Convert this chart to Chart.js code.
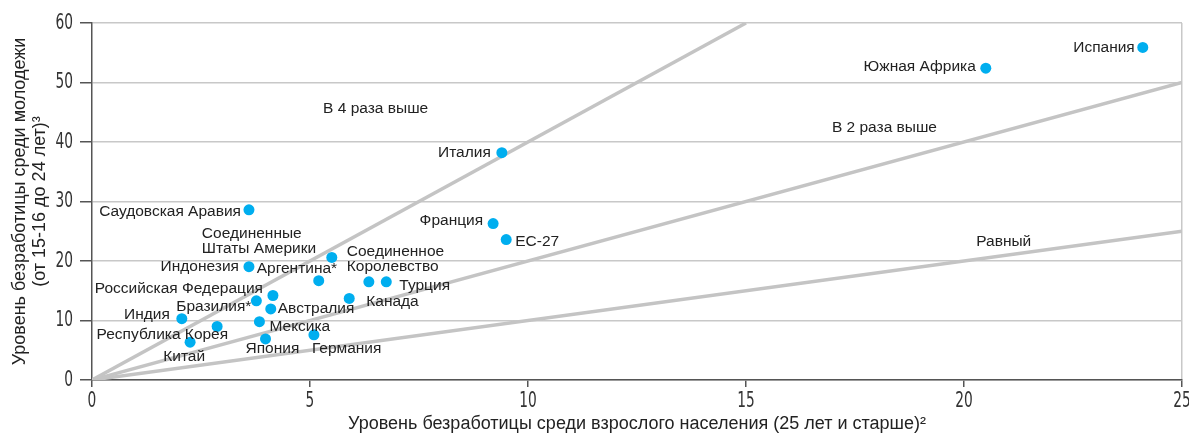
<!DOCTYPE html>
<html lang="ru">
<head>
<meta charset="utf-8">
<script src="https://cdn.jsdelivr.net/npm/chart.js@4.4.1/dist/chart.umd.min.js"></script>
<style>
    html, body { margin: 0; padding: 0; background: #fff; }
    #wrap { width: 1189px; height: 435px; position: relative; }
</style>
</head>
<body>
<div id="wrap"><canvas id="unemploymentChart"></canvas></div>
<script>
// Data
const countries = ['Испания', 'Южная Африка', 'Италия', 'Саудовская Аравия', 'Франция', 'ЕС-27',
    'Соединенное Королевство', 'Индонезия', 'Аргентина*', 'Соединенные Штаты Америки', 'Турция',
    'Канада', 'Российская Федерация', 'Бразилия*', 'Австралия', 'Мексика', 'Индия',
    'Республика Корея', 'Китай', 'Япония', 'Германия'];
const adultRate = [24.1, 20.5, 9.4, 3.6, 9.2, 9.5, 5.5, 3.6, 5.2, 6.35, 6.75, 5.9, 4.15, 3.77, 4.1, 3.84, 2.06, 2.87, 2.25, 3.98, 5.09];
const youthRate = [55.9, 52.4, 38.2, 28.6, 26.3, 23.6, 20.6, 19.05, 16.7, 16.5, 16.5, 13.7, 14.2, 13.3, 11.95, 9.8, 10.3, 9.0, 6.35, 6.9, 7.6];

// Reference lines y = k * x
const refRatios = [4, 2, 1];
const refEndX = [15, 25, 25];
const refLabels = ['В 4 раза выше', 'В 2 раза выше', 'Равный'];
const refLabelX = [5.3, 16.97, 20.28];
const refLabelY = [45.6, 42.4, 23.2];

const xTickValues = [0, 5, 10, 15, 20, 25];
const yTickValues = [0, 10, 20, 30, 40, 50, 60];

// Label placement (pixel offsets from the point)
const labelPlacement = {
    'Испания': { dx: -8, dy: 0, align: 'right' },
    'Южная Африка': { dx: -10, dy: -2, align: 'right' },
    'Италия': { dx: -11, dy: 0, align: 'right' },
    'Саудовская Аравия': { dx: -8, dy: 2, align: 'right' },
    'Франция': { dx: -10, dy: -3, align: 'right' },
    'ЕС-27': { dx: 9, dy: 2, align: 'left' },
    'Соединенное Королевство': { dx: 15, dy: -6, align: 'left', lines: ['Соединенное', 'Королевство'] },
    'Индонезия': { dx: -10, dy: 0, align: 'right' },
    'Аргентина*': { dx: -62, dy: -12, align: 'left' },
    'Соединенные Штаты Америки': { dx: -167, dy: -48, align: 'left', lines: ['Соединенные', 'Штаты Америки'] },
    'Турция': { dx: 13, dy: 4, align: 'left' },
    'Канада': { dx: 17, dy: 3, align: 'left' },
    'Российская Федерация': { dx: -10, dy: -7, align: 'right' },
    'Бразилия*': { dx: -5, dy: 6, align: 'right' },
    'Австралия': { dx: 7, dy: 0, align: 'left' },
    'Мексика': { dx: 10, dy: 5, align: 'left' },
    'Индия': { dx: -12, dy: -4, align: 'right' },
    'Республика Корея': { dx: 11, dy: 8, align: 'right' },
    'Китай': { dx: 15, dy: 15, align: 'right' },
    'Япония': { dx: -20, dy: 10, align: 'left' },
    'Германия': { dx: -2, dy: 14, align: 'left' }
};

const labelFont = '15.5px "Liberation Sans", Arial, sans-serif';
const tickFontCss = '21.5px "DejaVu Sans", sans-serif';
const tickSqueeze = 0.64;

// Point labels, reference line captions and narrow tick numbers
const labelPlugin = {
    id: 'pointLabels',
    afterDatasetsDraw(chart) {
        const ctx = chart.ctx;
        const meta = chart.getDatasetMeta(0);
        ctx.save();
        ctx.font = labelFont;
        ctx.fillStyle = '#222';
        ctx.textBaseline = 'middle';
        countries.forEach((name, i) => {
            const pt = meta.data[i];
            const p = labelPlacement[name];
            const lines = p.lines || [name];
            ctx.textAlign = p.align;
            lines.forEach((line, j) => {
                ctx.fillText(line, pt.x + p.dx, pt.y + p.dy + j * 15);
            });
        });
        const xs = chart.scales.x, ys = chart.scales.y;
        ctx.textAlign = 'left';
        refLabels.forEach((t, i) => {
            ctx.fillText(t, xs.getPixelForValue(refLabelX[i]), ys.getPixelForValue(refLabelY[i]));
        });
        ctx.restore();
    },
    afterDraw(chart) {
        const ctx = chart.ctx;
        const xs = chart.scales.x, ys = chart.scales.y;
        ctx.save();
        ctx.font = tickFontCss;
        ctx.fillStyle = '#333';
        ctx.textBaseline = 'middle';
        ctx.textAlign = 'right';
        ys.ticks.forEach(t => {
            const py = ys.getPixelForValue(t.value);
            ctx.save();
            ctx.translate(73, py);
            ctx.scale(tickSqueeze, 1);
            ctx.fillText(String(t.value), 0, 0);
            ctx.restore();
        });
        ctx.textAlign = 'center';
        xs.ticks.forEach(t => {
            const px = xs.getPixelForValue(t.value);
            ctx.save();
            ctx.translate(px, 401);
            ctx.scale(tickSqueeze, 1);
            ctx.fillText(String(t.value), 0, 0);
            ctx.restore();
        });
        ctx.restore();
    }
};

const refDatasets = refRatios.map((k, i) => ({
    type: 'line',
    data: [{ x: 0, y: 0 }, { x: refEndX[i], y: k * refEndX[i] }],
    borderColor: '#c4c4c4',
    borderWidth: 3.5,
    pointRadius: 0,
    fill: false,
    order: 2
}));

const ctx = document.getElementById('unemploymentChart').getContext('2d');
new Chart(ctx, {
    type: 'scatter',
    data: {
        datasets: [{
            data: countries.map((c, i) => ({ x: adultRate[i], y: youthRate[i] })),
            backgroundColor: '#00aeef',
            borderWidth: 0,
            pointRadius: 5.5,
            order: 1
        }, ...refDatasets]
    },
    options: {
        responsive: true,
        maintainAspectRatio: false,
        animation: false,
        layout: { padding: { top: 23, right: 7, left: 0, bottom: 0 } },
        plugins: {
            legend: { display: false },
            tooltip: { enabled: false }
        },
        scales: {
            x: {
                type: 'linear',
                min: 0,
                max: 25,
                afterBuildTicks: (scale) => { scale.ticks = xTickValues.map(v => ({ value: v })); },
                afterFit: (scale) => { scale.height = 55; },
                border: { color: '#555', width: 1.5 },
                grid: {
                    color: (c) => (c.tick && c.tick.value === 25 ? '#c8c8c8' : 'rgba(0,0,0,0)'),
                    lineWidth: 1.5,
                    tickColor: '#555',
                    tickLength: 7
                },
                ticks: { color: 'rgba(0,0,0,0)', font: { size: 2 }, padding: 4 },
                title: {
                    display: true,
                    text: 'Уровень безработицы среди взрослого населения (25 лет и старше)²',
                    color: '#222',
                    font: { family: '"Liberation Sans", Arial, sans-serif', size: 18 },
                    padding: { top: 10, bottom: 0 }
                }
            },
            y: {
                type: 'linear',
                min: 0,
                max: 60,
                afterBuildTicks: (scale) => { scale.ticks = yTickValues.map(v => ({ value: v })); },
                afterFit: (scale) => { scale.width = 92; },
                border: { color: '#555', width: 1.5 },
                grid: {
                    color: '#c8c8c8',
                    lineWidth: 1.5,
                    tickColor: '#555',
                    tickLength: 12
                },
                ticks: { color: 'rgba(0,0,0,0)', font: { size: 2 }, padding: 5 },
                title: {
                    display: true,
                    text: ['Уровень безработицы среди молодежи', '(от 15-16 до 24 лет)³'],
                    color: '#222',
                    font: { family: '"Liberation Sans", Arial, sans-serif', size: 18, lineHeight: 1.12 },
                    padding: { top: 10, bottom: 0 }
                }
            }
        }
    },
    plugins: [labelPlugin]
});
</script>
</body>
</html>
